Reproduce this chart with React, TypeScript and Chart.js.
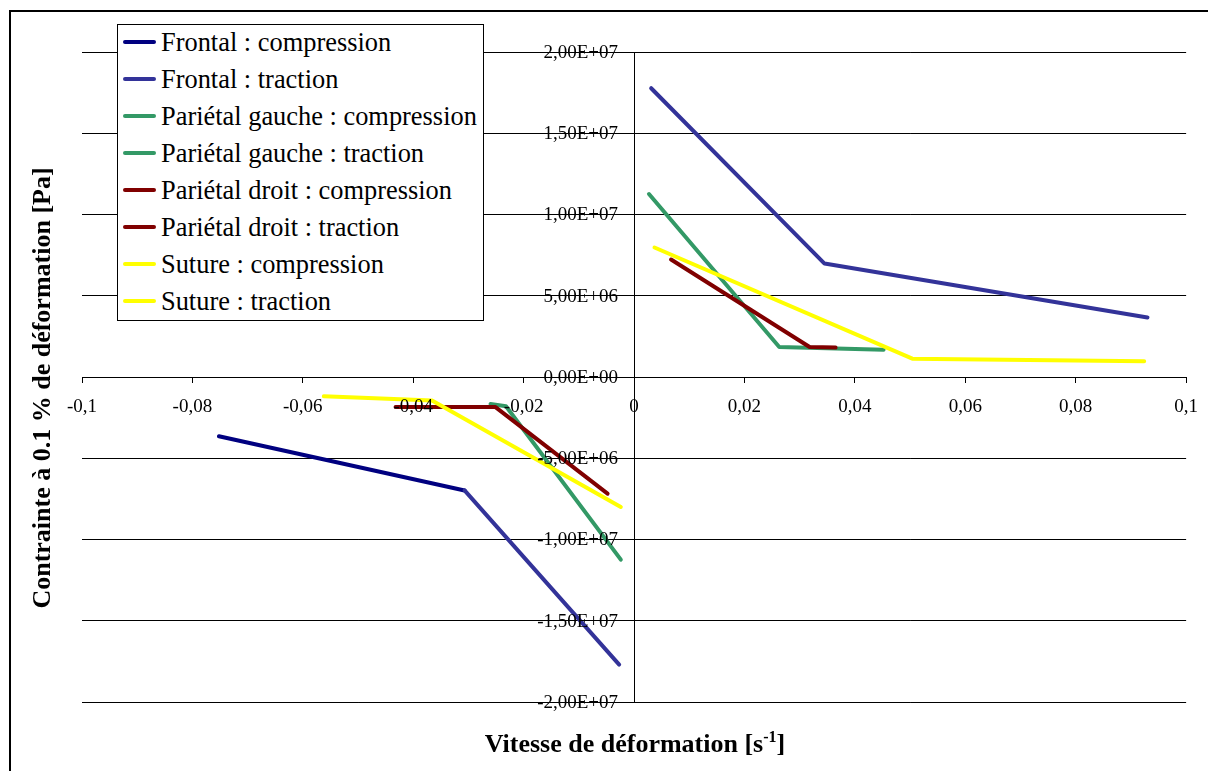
import React, { useEffect, useRef } from 'react';
import { Chart, registerables } from 'chart.js';

Chart.register(...registerables);

const X_TICKS = [-0.1, -0.08, -0.06, -0.04, -0.02, 0, 0.02, 0.04, 0.06, 0.08, 0.1];
const X_TICK_LABELS = ['-0,1', '-0,08', '-0,06', '-0,04', '-0,02', '0', '0,02', '0,04', '0,06', '0,08', '0,1'];
const Y_TICKS = [-2e7, -1.5e7, -1e7, -5e6, 0, 5e6, 1e7, 1.5e7, 2e7];
const Y_TICK_LABELS = ['-2,00E+07', '-1,50E+07', '-1,00E+07', '-5,00E+06', '0,00E+00', '5,00E+06', '1,00E+07', '1,50E+07', '2,00E+07'];

const SERIES_NAMES = [
  'Frontal : compression',
  'Frontal : traction',
  'Pariétal gauche : compression',
  'Pariétal gauche : traction',
  'Pariétal droit : compression',
  'Pariétal droit : traction',
  'Suture : compression',
  'Suture : traction',
];

const FRONTAL_COMP_X = [-0.0752, -0.0307, -0.0027];
const FRONTAL_COMP_Y = [-3.65e6, -6.98e6, -1.77e7];
const FRONTAL_TRAC_X = [0.0031, 0.0345, 0.093];
const FRONTAL_TRAC_Y = [1.777e7, 6.98e6, 3.66e6];
const GAUCHE_COMP_X = [-0.026, -0.0232, -0.0024];
const GAUCHE_COMP_Y = [-1.66e6, -1.8e6, -1.124e7];
const GAUCHE_TRAC_X = [0.0027, 0.0263, 0.0452];
const GAUCHE_TRAC_Y = [1.126e7, 1.85e6, 1.68e6];
const DROIT_COMP_X = [-0.0432, -0.0251, -0.0048];
const DROIT_COMP_Y = [-1.85e6, -1.85e6, -7.18e6];
const DROIT_TRAC_X = [0.0067, 0.0318, 0.0365];
const DROIT_TRAC_Y = [7.23e6, 1.85e6, 1.81e6];
const SUTURE_COMP_X = [-0.0562, -0.0366, -0.0024];
const SUTURE_COMP_Y = [-1.19e6, -1.44e6, -8.0e6];
const SUTURE_TRAC_X = [0.0037, 0.0504, 0.0924];
const SUTURE_TRAC_Y = [7.97e6, 1.13e6, 0.97e6];

const SERIES_X = [FRONTAL_COMP_X, FRONTAL_TRAC_X, GAUCHE_COMP_X, GAUCHE_TRAC_X, DROIT_COMP_X, DROIT_TRAC_X, SUTURE_COMP_X, SUTURE_TRAC_X];
const SERIES_Y = [FRONTAL_COMP_Y, FRONTAL_TRAC_Y, GAUCHE_COMP_Y, GAUCHE_TRAC_Y, DROIT_COMP_Y, DROIT_TRAC_Y, SUTURE_COMP_Y, SUTURE_TRAC_Y];
const SERIES_COLORS = ['#000080', '#333399', '#339966', '#339966', '#800000', '#800000', '#FFFF00', '#FFFF00'];

const nearestLabel = (ticks: number[], labels: string[], v: number) => {
  let best = 0;
  for (let i = 1; i < ticks.length; i++) {
    if (Math.abs(ticks[i] - v) < Math.abs(ticks[best] - v)) best = i;
  }
  return labels[best];
};

const FONT = "'Liberation Serif', 'Times New Roman', serif";

const yLabelPlugin = {
  id: 'yLabels',
  afterDatasetsDraw(chart: any) {
    const ctx = chart.ctx;
    const xs = chart.scales.x;
    const ys = chart.scales.y;
    const x0 = xs.getPixelForValue(0);
    ctx.save();
    ctx.font = `19px ${FONT}`;
    ctx.fillStyle = '#000';
    ctx.textAlign = 'right';
    ctx.textBaseline = 'middle';
    Y_TICKS.forEach((v, i) => {
      ctx.fillText(Y_TICK_LABELS[i], x0 - 16, ys.getPixelForValue(v) + 1);
    });
    ctx.restore();
  },
};

export default function App() {
  const canvasRef = useRef<HTMLCanvasElement | null>(null);

  useEffect(() => {
    const canvas = canvasRef.current;
    if (!canvas) return;
    const n = SERIES_NAMES.length;
    const datasets = SERIES_NAMES.map((name, i) => ({
      label: name,
      data: SERIES_X[i].map((x, j) => ({ x, y: SERIES_Y[i][j] })),
      borderColor: SERIES_COLORS[i],
      backgroundColor: SERIES_COLORS[i],
      borderWidth: 4,
      pointRadius: 0,
      pointHoverRadius: 0,
      showLine: true,
      fill: false,
      tension: 0,
      borderCapStyle: 'round' as const,
      borderJoinStyle: 'round' as const,
      order: n - i,
      segment: i === 0 ? { borderColor: (ctx: any) => (ctx.p0DataIndex >= 1 ? '#333399' : '#000080') } : undefined,
    }));

    const chart = new Chart(canvas, {
      type: 'scatter',
      data: { datasets },
      options: {
        animation: false,
        responsive: false,
        events: [],
        layout: { padding: { left: 82, right: 17, top: 52, bottom: 69 } },
        plugins: { legend: { display: false }, tooltip: { enabled: false }, title: { display: false } },
        scales: {
          x: {
            type: 'linear',
            min: -0.1,
            max: 0.1,
            position: { y: 0 } as any,
            afterBuildTicks: (s: any) => {
              s.ticks = X_TICKS.map((v) => ({ value: v }));
            },
            ticks: {
              callback: (v: any) => nearestLabel(X_TICKS, X_TICK_LABELS, Number(v)),
              font: { family: FONT, size: 19 },
              color: '#000',
              padding: 14,
              maxRotation: 0,
              autoSkip: false,
              z: 1,
            },
            grid: { drawOnChartArea: false, drawTicks: true, tickLength: 5, color: '#000', lineWidth: 1 },
            border: { display: true, color: '#000', width: 1 },
          },
          y: {
            type: 'linear',
            min: -2e7,
            max: 2e7,
            position: { x: 0 } as any,
            afterBuildTicks: (s: any) => {
              s.ticks = Y_TICKS.map((v) => ({ value: v }));
            },
            ticks: {
              display: false,
              autoSkip: false,
            },
            grid: { drawOnChartArea: true, drawTicks: true, tickLength: 5, color: '#000', lineWidth: 1 },
            border: { display: true, color: '#000', width: 1 },
          },
        },
      },
      plugins: [yLabelPlugin],
    });
    return () => chart.destroy();
  }, []);

  return (
    <div style={{ position: 'absolute', left: 0, top: 0, width: 1208, height: 771, overflow: 'hidden', background: '#fff', fontFamily: FONT }}>
      <div style={{ position: 'absolute', left: 9, top: 10, width: 1400, height: 900, borderLeft: '2px solid #000', borderTop: '2px solid #000' }} />
      <canvas ref={canvasRef} width={1212} height={771} style={{ position: 'absolute', left: 0, top: 0, width: 1212, height: 771 }} />
      <div
        style={{
          position: 'absolute',
          left: 117,
          top: 24,
          width: 365,
          height: 295,
          border: '1px solid #000',
          background: '#fff',
        }}
      >
        {SERIES_NAMES.map((name, i) => (
          <div key={name} style={{ position: 'absolute', left: 0, top: 2.3 + 37 * i, height: 30, width: 365, whiteSpace: 'nowrap' }}>
            <div style={{ position: 'absolute', left: 5, top: 13, width: 33, height: 4, background: SERIES_COLORS[i], borderRadius: 2 }} />
            <div style={{ position: 'absolute', left: 43, top: 0, fontSize: 26.4, lineHeight: '30px', color: '#000' }}>{name}</div>
          </div>
        ))}
      </div>
      <div
        style={{
          position: 'absolute',
          left: 0,
          top: 729,
          width: 1270,
          textAlign: 'center',
          fontSize: 26,
          lineHeight: '30px',
          fontWeight: 'bold',
          color: '#000',
        }}
      >
        Vitesse de déformation [s<span style={{ fontSize: 16, position: 'relative', top: -10 }}>-1</span>]
      </div>
      <div
        style={{
          position: 'absolute',
          left: 42 - 300,
          top: 388 - 15,
          width: 600,
          height: 30,
          textAlign: 'center',
          fontSize: 26,
          lineHeight: '30px',
          fontWeight: 'bold',
          color: '#000',
          transform: 'rotate(-90deg)',
          whiteSpace: 'nowrap',
        }}
      >
        Contrainte à 0.1 % de déformation [Pa]
      </div>
    </div>
  );
}
